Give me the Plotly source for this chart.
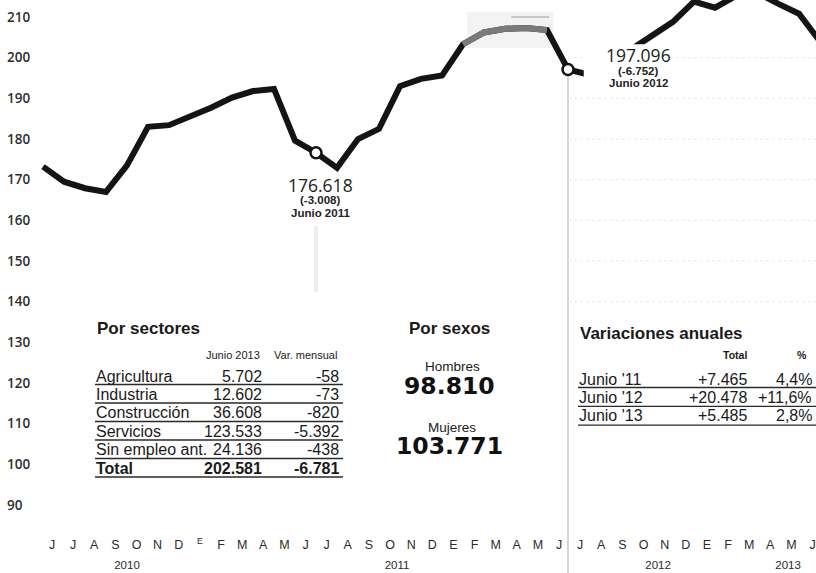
import plotly.graph_objects as go

# ---------------- data ----------------
# month index: 0 = June 2010 ... 36 = June 2013 (series starts May 2010)
month_index = list(range(-1, 37))
paro_miles = [173.2, 169.5, 167.9, 167.0, 173.5, 183.0, 183.4, 185.4,      # May10..Dec10
              187.7, 190.2, 191.8, 192.3, 179.6, 176.618, 172.9, 180.0,    # Jan11..Aug11
              182.5, 193.0, 194.8, 195.6, 203.3, 206.2, 207.1, 207.3,      # Sep11..Apr12
              206.8, 197.096, 195.8, 198.6, 202.0, 205.4, 208.8, 213.8,    # May12..Dec12
              212.3, 215.2, 216.0, 213.3, 210.8, 204.0]                    # Jan13..Jun13

month_letters = ["J", "J", "A", "S", "O", "N", "D", "<sup>E</sup>", "F", "M", "A", "M",
                 "J", "J", "A", "S", "O", "N", "D", "E", "F", "M", "A", "M",
                 "J", "J", "A", "S", "O", "N", "D", "E", "F", "M", "A", "M", "J"]
years = ["2010", "2011", "2012", "2013"]
y_ticks = [90, 100, 110, 120, 130, 140, 150, 160, 170, 180, 190, 200, 210]

hl_months = [12, 24]
hl_values = ["176.618", "197.096"]
hl_change = ["(-3.008)", "(-6.752)"]
hl_label = ["Junio 2011", "Junio 2012"]

gray_from, gray_to = 19, 23  # Jan 2012 .. May 2012 segment

sectores = ["Agricultura", "Industria", "Construcción", "Servicios", "Sin empleo ant.", "Total"]
junio_2013 = [5702, 12602, 36608, 123533, 24136, 202581]
var_mensual = [-58, -73, -820, -5392, -438, -6781]

sexos = ["Hombres", "Mujeres"]
sexos_val = [98810, 103771]

var_anual_lbl = ["Junio '11", "Junio '12", "Junio '13"]
var_anual_tot = [7465, 20478, 5485]
var_anual_pct = ["4,4%", "+11,6%", "2,8%"]


def es(n, sign=False):
    s = f"{abs(n):,}".replace(",", ".")
    if n < 0:
        return "-" + s
    return ("+" + s) if sign else s


# ---------------- layout helpers ----------------
W, H, MB = 816, 573, 50
PH = H - MB
X0, PXM = 64.0, 21.0           # pixel of month 0, pixels per month
xr = [-X0 / PXM, (W - X0) / PXM]
yr = [210 - (PH - 17) / 4.0667, 210 + 17 / 4.0667]


def px(x):
    return x / W


def py(y):
    return 1 - y / PH


INK = "#1a1a1a"
TXT = "Liberation Sans"

fig = go.Figure()

idx = {m: i for i, m in enumerate(month_index)}

fig.add_trace(go.Scatter(x=month_index, y=paro_miles, mode="lines",
                         line=dict(color="#141414", width=6), hoverinfo="skip"))
g0, g1 = idx[gray_from], idx[gray_to]
fig.add_trace(go.Scatter(x=month_index[g0:g1 + 1], y=paro_miles[g0:g1 + 1], mode="lines",
                         line=dict(color="#7a7a7a", width=6), hoverinfo="skip"))
fig.add_trace(go.Scatter(x=hl_months, y=[paro_miles[idx[m]] for m in hl_months], mode="markers",
                         marker=dict(size=11, color="white", line=dict(color="#141414", width=2.5)),
                         hoverinfo="skip"))
# dummy trace for year axis
fig.add_trace(go.Scatter(x=[xr[0]], y=[yr[0]], xaxis="x2", mode="markers",
                         marker=dict(size=1, color="rgba(0,0,0,0)"), hoverinfo="skip"))

shapes = []
# faint dotted gridlines in the right-hand panel
for v in [200, 190, 180, 170, 160, 150, 140]:
    shapes.append(dict(type="line", xref="x", yref="y", x0=24, x1=xr[1], y0=v, y1=v,
                       line=dict(color="#e9e9e9", width=1, dash="dot"), layer="below"))
# light box behind gray segment
shapes.append(dict(type="rect", xref="x", yref="y", x0=19.2, x1=23.3, y0=202.4, y1=211.3,
                   fillcolor="#f3f3f3", line=dict(width=0), layer="below"))
shapes.append(dict(type="line", xref="x", yref="y", x0=21.3, x1=23.1, y0=210, y1=210,
                   line=dict(color="#9a9a9a", width=1), layer="below"))
# vertical marker lines
shapes.append(dict(type="line", xref="x", yref="paper", x0=24, x1=24, y0=-MB / PH, y1=py(72),
                   line=dict(color="#c4c4c4", width=1.5), layer="below"))
shapes.append(dict(type="line", xref="x", yref="paper", x0=12, x1=12, y0=py(292), y1=py(226),
                   line=dict(color="#eeeeee", width=4), layer="below"))
# white box behind Junio 2012 label
shapes.append(dict(type="rect", xref="x", yref="y", x0=24.75, x1=28.9, y0=190.4, y1=203.3,
                   fillcolor="white", line=dict(width=0), layer="above"))

ann = []


def A(x, y, text, size, xanchor="center", bold=False, family=TXT, color=INK, weight=None):
    f = dict(family=family, size=size, color=color)
    if weight is not None:
        f["weight"] = weight
    elif bold:
        f["weight"] = "bold"
    ann.append(dict(x=px(x), y=py(y), xref="paper", yref="paper", text=text, showarrow=False,
                    xanchor=xanchor, yanchor="middle", font=f))


# highlighted points
hl_pos = [(320, 185), (638, 55)]
for (cx, cy), v, c, l in zip(hl_pos, hl_values, hl_change, hl_label):
    A(cx, cy, v, 17.5, family="Open Sans", color="#222")
    A(cx, cy + 15.5, c, 11.5, bold=True, color="#222")
    A(cx, cy + 28, l, 11.5, bold=True, color="#222")

# Por sectores
A(95, 328, "Por sectores", 17, xanchor="left", bold=True)
A(262, 355, "Junio 2013", 11, xanchor="right")
A(339, 355, "Var. mensual", 11, xanchor="right")
for i, (s, v, d) in enumerate(zip(sectores, junio_2013, var_mensual)):
    yy = 376 + 18.4 * i
    b = (s == "Total")
    A(94, yy, s, 16, xanchor="left", bold=b)
    A(264, yy, es(v), 16, xanchor="right", bold=b)
    A(341, yy, es(d), 16, xanchor="right", bold=b)
    ry = 384.5 + 18.5 * i
    shapes.append(dict(type="line", xref="paper", yref="paper", x0=px(95), x1=px(343),
                       y0=py(ry), y1=py(ry), line=dict(color="#2a2a2a", width=1.3)))

# Por sexos
A(449, 328, "Por sexos", 17, bold=True)
for i, (s, v) in enumerate(zip(sexos, sexos_val)):
    A(452, 366 + 61 * i, s, 13.5)
    A(449, 386 + 60 * i, es(v), 23.5, bold=True, family="DejaVu Sans", color="#111")

# Variaciones anuales
A(578, 333, "Variaciones anuales", 17, xanchor="left", bold=True)
A(749, 355, "Total", 10.5, xanchor="right", bold=True)
A(809, 355, "%", 10.5, xanchor="right", bold=True)
for i, (l, t, p) in enumerate(zip(var_anual_lbl, var_anual_tot, var_anual_pct)):
    yy = 379 + 18.3 * i
    A(577, yy, l, 16, xanchor="left")
    A(749, yy, es(t, sign=True), 16, xanchor="right")
    A(814, yy, p, 16, xanchor="right")
    ry = 387.5 + 18.8 * i
    shapes.append(dict(type="line", xref="paper", yref="paper", x0=px(578), x1=px(816),
                       y0=py(ry), y1=py(ry), line=dict(color="#2a2a2a", width=1.3)))

tick_month_pos = [1.006 * i - 0.571 for i in range(len(month_letters))]
year_pos = [3.0, 15.86, 28.29, 34.48]

fig.update_layout(
    width=W, height=H, autosize=False,
    margin=dict(l=0, r=0, t=0, b=MB, pad=0),
    paper_bgcolor="white", plot_bgcolor="white",
    showlegend=False,
    xaxis=dict(range=xr, showgrid=False, zeroline=False, showline=False,
               tickmode="array", tickvals=tick_month_pos, ticktext=month_letters,
               ticks="outside", ticklen=10, tickcolor="rgba(0,0,0,0)",
               ticklabeloverflow="allow",
               tickfont=dict(family=TXT, size=12.5, color="#2a2a2a"), tickangle=0),
    xaxis2=dict(range=xr, overlaying="x", side="bottom", anchor="y", showgrid=False,
                zeroline=False, showline=False, tickmode="array", tickvals=year_pos,
                ticktext=years, ticks="outside", ticklen=31, tickcolor="rgba(0,0,0,0)",
                tickfont=dict(family=TXT, size=11.5, color="#2a2a2a"), tickangle=0),
    yaxis=dict(range=yr, showgrid=False, zeroline=False, showline=False,
               tickmode="array", tickvals=y_ticks, ticklabelposition="inside",
               ticklabelstandoff=4, ticks="",
               tickfont=dict(family="Open Sans", size=13.5, color="#2e2e2e", weight=600)),
    shapes=shapes, annotations=ann,
)

fig.write_html("out.html", config={"displayModeBar": False, "staticPlot": True},
               post_script="document.body.style.margin='0';document.body.style.overflow='hidden';")
